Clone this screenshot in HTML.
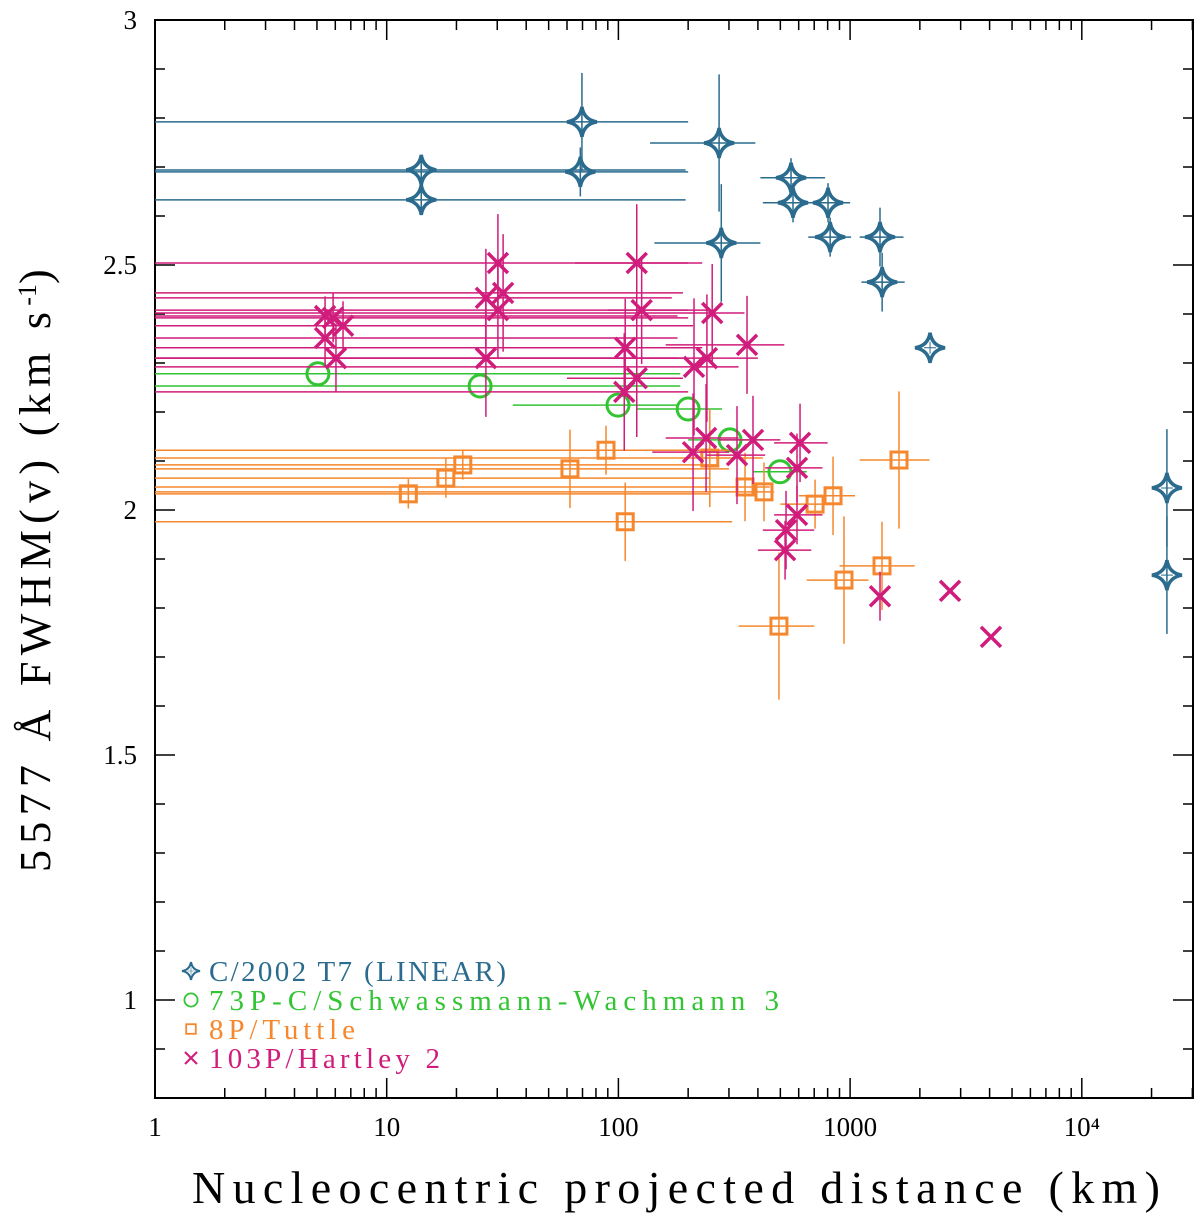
<!DOCTYPE html>
<html><head><meta charset="utf-8"><style>
html,body{margin:0;padding:0;background:#fff;}
svg text{font-family:"Liberation Serif","DejaVu Serif",serif;}
</style></head><body>
<svg id="chart" width="1200" height="1215" xmlns="http://www.w3.org/2000/svg"></svg>
<script>
// ---- data ----
const t7X   = [14.1,14.1,69.6,68.5,272,278,556,567,803,820,1346,1375,2213,23300,23300];
const t7Y   = [2.694,2.633,2.792,2.690,2.749,2.545,2.678,2.627,2.627,2.557,2.557,2.465,2.331,2.045,1.867];
const t7Xlo = [1,1,1,1,137,143,410,420,650,660,1100,1120,2213,23300,23300];
const t7Xhi = [195,195,200,200,390,410,780,790,1000,1010,1700,1720,2213,23300,23300];
const t7Ye  = [0.03,0.03,0.1,0.05,0.14,0.12,0.04,0.04,0.04,0.04,0.06,0.06,0,0.12,0.12];

const swX   = [5.05,25.3,99.6,200,303,498];
const swY   = [2.278,2.253,2.214,2.206,2.143,2.078];
const swXlo = [1,1,35,120,200,380];
const swXhi = [185,185,180,280,420,650];
const swYe  = [0,0,0,0,0,0];

const ttX   = [12.4,18.0,21.3,61.8,88.4,107,248,352,425,844,706,941,1373,493,1626];
const ttY   = [2.033,2.065,2.092,2.084,2.122,1.976,2.106,2.047,2.037,2.029,2.012,1.857,1.886,1.763,2.102];
const ttXlo = [1,1,1,1,1,1,1,1,1,600,500,650,900,330,1100];
const ttXhi = [250,250,270,300,300,310,420,450,470,1050,900,1200,1900,700,2200];
const ttYe  = [0.03,0.04,0.03,0.08,0.05,0.08,0.1,0.07,0.06,0.08,0.05,0.13,0.09,0.15,0.14];

const hxX   = [5.42,5.87,6.48,5.42,6.04,26.8,30.2,31.8,30.2,26.8,120,126,107,120,106,254,359,212,241,210,239,325,381,608,590,529,524,1346,2700,4055,590];
const hxY   = [2.396,2.392,2.376,2.351,2.310,2.433,2.504,2.443,2.408,2.310,2.504,2.408,2.331,2.269,2.241,2.402,2.337,2.292,2.310,2.118,2.147,2.112,2.143,2.137,2.086,1.959,1.918,1.824,1.835,1.741,1.990];
const hxXlo = [1,1,1,1,1,1,1,1,1,1,65,90,1,60,1,1,160,1,1,140,160,240,270,470,430,420,400,1346,2700,4055,470];
const hxXhi = [180,200,210,180,190,170,200,190,200,180,230,250,230,190,200,350,520,330,400,300,330,430,500,800,760,700,680,1346,2700,4055,760];
const hxYe  = [0.04,0.05,0.05,0.06,0.07,0.1,0.1,0.12,0.1,0.12,0.12,0.11,0.1,0.12,0.12,0.1,0.1,0.14,0.13,0.12,0.11,0.1,0.09,0.08,0.07,0.08,0.06,0.05,0,0,0.06];

const xTickVals = [1,10,100,1000,10000];
const xTickLabels = ["1","10","100","1000","10\u2074"];
const yTickVals = [1,1.5,2,2.5,3];
const yTickLabels = ["1","1.5","2","2.5","3"];

// ---- axes ----
const L=155,R=1193,T=20,B=1098;
const pxPerDec=231.7;
function X(v){return L+Math.log10(v)*pxPerDec;}
function Y(v){return T+(3-v)*490;}
const svg=document.getElementById('chart');
const NS="http://www.w3.org/2000/svg";
function mk(tag,attrs,parent){const e=document.createElementNS(NS,tag);for(const k in attrs)e.setAttribute(k,attrs[k]);(parent||svg).appendChild(e);return e;}

const ticksG=mk('g',{stroke:'#000','stroke-width':1.5});


for(let d=0;d<5;d++){for(let m=1;m<10;m++){const v=m*Math.pow(10,d);const px=X(v);if(px>R)continue;const len=m===1?20:10;
mk('line',{x1:px,y1:B,x2:px,y2:B-len},ticksG);mk('line',{x1:px,y1:T,x2:px,y2:T+len},ticksG);}}
for(let i=8;i<=30;i++){const v=i/10;const py=Y(v);const len=(i%5===0)?20:10;
mk('line',{x1:L,y1:py,x2:L+len,y2:py},ticksG);mk('line',{x1:R,y1:py,x2:R-len,y2:py},ticksG);}
const frame=mk('rect',{x:L,y:T,width:R-L,height:B-T,fill:'none',stroke:'#000','stroke-width':2});



xTickVals.forEach((v,i)=>{const t=mk('text',{x:X(v),y:B+38,'text-anchor':'middle','font-size':27});t.textContent=xTickLabels[i];

});
yTickVals.forEach((v,i)=>{const t=mk('text',{x:L-18,y:Y(v)+9,'text-anchor':'end','font-size':27});t.textContent=yTickLabels[i];

});

const xt=mk('text',{x:192,y:1203,'font-size':46,textLength:968,lengthAdjust:'spacing'});
xt.textContent='Nucleocentric projected distance (km)';


const yt=mk('text',{x:0,y:0,'font-size':44,transform:'translate(50,872) rotate(-90)'});
yt.innerHTML='<tspan textLength="560" lengthAdjust="spacing">5577 Å FWHM(v) (km s</tspan><tspan dy="-14" font-size="26">-1</tspan><tspan dy="14">)</tspan>';



function marker(type,cx,cy,col,g){
 if(type==='star'){const s=15,w=4;
  mk('path',{d:`M${cx},${cy-s} Q${cx+w/2},${cy-w/2} ${cx+s},${cy} Q${cx+w/2},${cy+w/2} ${cx},${cy+s} Q${cx-w/2},${cy+w/2} ${cx-s},${cy} Q${cx-w/2},${cy-w/2} ${cx},${cy-s}Z`,fill:'none',stroke:col,'stroke-width':3.5},g);
  mk('path',{d:`M${cx-6},${cy}H${cx+6}M${cx},${cy-6}V${cy+6}`,stroke:col,'stroke-width':1},g);}
 else if(type==='circle'){mk('circle',{cx,cy,r:11,fill:'none',stroke:col,'stroke-width':3},g);}
 else if(type==='square'){mk('rect',{x:cx-8,y:cy-8,width:16,height:16,fill:'none',stroke:col,'stroke-width':3},g);}
 else {const s=10;mk('path',{d:`M${cx-s},${cy-s}L${cx+s},${cy+s}M${cx-s},${cy+s}L${cx+s},${cy-s}`,stroke:col,'stroke-width':3.5},g);}
}
function series(name,type,col,xs,ys,xlo,xhi,ye){
 const g=mk('g',{});
 
 
 xs.forEach((x,i)=>{const cx=X(x),cy=Y(ys[i]);
  if(xlo[i]!==xhi[i])mk('line',{x1:X(xlo[i]),y1:cy,x2:X(xhi[i]),y2:cy,stroke:col,'stroke-width':1.5},g);
  if(ye[i]>0)mk('line',{x1:cx,y1:Y(ys[i]+ye[i]),x2:cx,y2:Y(ys[i]-ye[i]),stroke:col,'stroke-width':1.5},g);
  marker(type,cx,cy,col,g);});
}
const cT7='#2a6b8e',cSW='#33c433',cTT='#f5882e',cHX='#d01c7a';
series('series-t7','star',cT7,t7X,t7Y,t7Xlo,t7Xhi,t7Ye);
series('series-73p','circle',cSW,swX,swY,swXlo,swXhi,swYe);
series('series-8p','square',cTT,ttX,ttY,ttXlo,ttXhi,ttYe);
series('series-103p','cross',cHX,hxX,hxY,hxXlo,hxXhi,hxYe);

const leg=[['star',cT7,'C/2002 T7 (LINEAR)',297],['circle',cSW,'73P-C/Schwassmann-Wachmann 3',570],['square',cTT,'8P/Tuttle',146],['cross',cHX,'103P/Hartley 2',231]];
const lg=mk('g',{});


leg.forEach((e,i)=>{const y=971+i*29;const g=mk('g',{transform:`translate(191,${y}) scale(0.6) translate(-191,${-y})`},lg);marker(e[0],191,y,e[1],g);
 const t=mk('text',{x:209,y:y+10,'font-size':29,fill:e[1],textLength:e[3],lengthAdjust:'spacing'},lg);t.textContent=e[2];
 
 });
</script>
</body></html>
